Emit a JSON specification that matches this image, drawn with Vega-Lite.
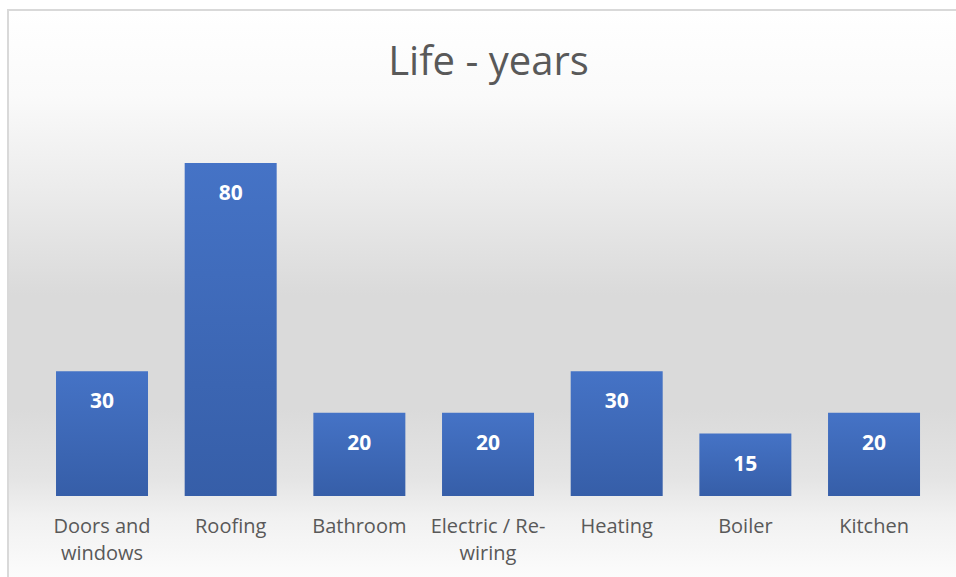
{
  "$schema": "https://vega.github.io/schema/vega-lite/v6.json",
  "width": 951,
  "height": 570,
  "autosize": {"type": "none"},
  "padding": {"left": 8, "top": 10, "right": -3, "bottom": -3},
  "background": "#ffffff",
  "title": {
    "text": "Life - years",
    "font": "Open Sans",
    "fontSize": 40,
    "fontWeight": "normal",
    "color": "#595959",
    "anchor": "middle",
    "frame": "group",
    "baseline": "alphabetic",
    "offset": -65,
    "dx": 5,
    "dy": 40
  },
  "data": {
    "values": [
      {"item": "Doors and windows", "years": 30},
      {"item": "Roofing", "years": 80},
      {"item": "Bathroom", "years": 20},
      {"item": "Electric / Re-wiring", "years": 20},
      {"item": "Heating", "years": 30},
      {"item": "Boiler", "years": 15},
      {"item": "Kitchen", "years": 20}
    ]
  },
  "encoding": {
    "x": {
      "field": "item",
      "type": "nominal",
      "sort": null,
      "scale": {"paddingInner": 0.285, "paddingOuter": 0.338, "align": 0.552},
      "axis": {
        "title": null,
        "orient": "bottom",
        "offset": -84,
        "domain": false,
        "ticks": false,
        "labelAngle": 0,
        "labelFont": "Open Sans",
        "labelFontSize": 20,
        "labelColor": "#595959",
        "labelBaseline": "top",
        "labelPadding": 20,
        "labelLineHeight": 27,
        "labelExpr": "datum.value == 'Doors and windows' ? ['Doors and', 'windows'] : datum.value == 'Electric / Re-wiring' ? ['Electric / Re-', 'wiring'] : datum.value"
      }
    }
  },
  "layer": [
    {
      "mark": {
        "type": "bar",
        "color": {
          "gradient": "linear",
          "x1": 0, "y1": 0, "x2": 0, "y2": 1,
          "stops": [
            {"offset": 0, "color": "#4573C6"},
            {"offset": 1, "color": "#365EA8"}
          ]
        }
      },
      "encoding": {
        "y": {
          "field": "years",
          "type": "quantitative",
          "scale": {"domain": [-20.18, 116.76], "zero": false, "nice": false},
          "axis": null
        },
        "y2": {"datum": 0}
      }
    },
    {
      "mark": {
        "type": "text",
        "font": "Open Sans",
        "fontSize": 21,
        "fontWeight": "bold",
        "color": "#ffffff",
        "baseline": "middle",
        "dy": 31
      },
      "encoding": {
        "y": {"field": "years", "type": "quantitative"},
        "text": {"field": "years", "type": "quantitative"}
      }
    }
  ],
  "config": {
    "view": {
      "stroke": "#d9d9d9",
      "strokeWidth": 2,
      "fill": {
        "gradient": "linear",
        "x1": 0, "y1": 0, "x2": 0, "y2": 1,
        "stops": [
          {"offset": 0, "color": "#ffffff"},
          {"offset": 0.15, "color": "#fafafa"},
          {"offset": 0.32, "color": "#ebebeb"},
          {"offset": 0.5, "color": "#dadada"},
          {"offset": 0.7, "color": "#dadada"},
          {"offset": 0.82, "color": "#e4e4e4"},
          {"offset": 0.89, "color": "#f1f1f1"},
          {"offset": 1, "color": "#fcfcfc"}
        ]
      }
    }
  }
}
